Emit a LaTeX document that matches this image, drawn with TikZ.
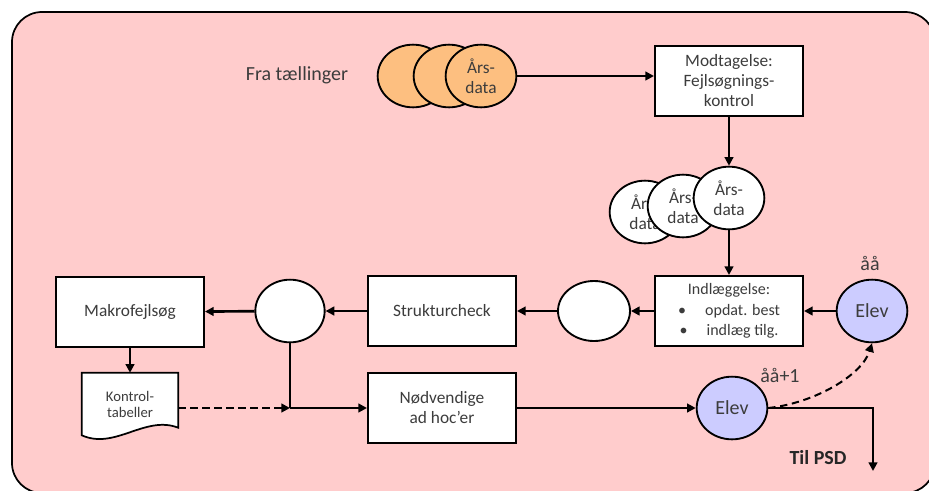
\documentclass[tikz,border=0pt]{standalone}
\usepackage{fontspec}
\setmainfont{Carlito}
\usepackage{tikz}
\usetikzlibrary{arrows.meta, shapes.geometric, positioning}
\usepackage{xcolor}
\definecolor{bgpink}{HTML}{FFCCCC}
\definecolor{dataorange}{HTML}{FDBF80}
\definecolor{elevblue}{HTML}{CCCCFF}
\definecolor{txtgray}{HTML}{3C3C3C}

\begin{document}
\begin{tikzpicture}[x=0.75pt, y=-0.75pt,
	flow/.style={line width=2pt, -{Triangle[length=6.5pt, width=6.5pt]}},
	stiplet/.style={dash pattern=on 5.5pt off 3.5pt},
	boks/.style={draw, line width=1.5pt, fill=white, minimum width=111pt, minimum height=52.5pt, inner sep=2pt, align=center, text=txtgray, font=\fontsize{13}{15}\selectfont},
	data/.style={ellipse, draw, line width=1.4pt, minimum width=53pt, minimum height=47pt, inner sep=0pt, align=center, text=txtgray, font=\fontsize{13}{15}\selectfont},
	elev/.style={data, fill=elevblue, font=\fontsize{15}{17}\selectfont},
	etiket/.style={text=txtgray, font=\fontsize{15}{17}\selectfont}]
	\useasboundingbox (0,0) rectangle (929,490);
	% baggrund
	\draw [fill=bgpink, line width=1.3pt, rounded corners=22.5pt] (12,12) rectangle (935,493);
	% modtagelse
	\node [etiket] (fra) at (297,75) {Fra tællinger};
	\node [data, fill=dataorange] (aars1) at (413,76) {};
	\node [data, fill=dataorange] (aars2) at (449,76) {};
	\node [data, fill=dataorange] (aars3) at (481,76) {Års-\\data};
	\node [boks] (modt) at (729,81) {Modtagelse:\\Fejlsøgnings-\\kontrol};
	\node [data, fill=white] (ny1) at (645,212) {Års-\\data};
	\node [data, fill=white] (ny2) at (683,206) {Års-\\data};
	\node [data, fill=white] (ny3) at (729,198) {Års-\\data};
	% indlaeggelse og check
	\node [boks, font=\fontsize{12}{14.3}\selectfont] (indl) at (729,311) {Indlæggelse:\\[1pt]\textbullet\hspace{1.2em}opdat. best\\[1pt]\textbullet\hspace{1.2em}indlæg tilg.};
	\node [elev] (elev1) at (872,311) {Elev};
	\node [etiket] (aa) at (870,263) {åå};
	\node [data, fill=white, minimum width=54pt, minimum height=45pt] (rund1) at (594,311) {};
	\node [boks] (struk) at (442,311) {Strukturcheck};
	\node [data, fill=white, minimum width=52pt] (rund2) at (290,311) {};
	\node [boks] (makro) at (130,312) {Makrofejlsøg};
	\node [minimum width=72pt, minimum height=46.5pt, inner sep=0pt, align=center, text=txtgray, font=\fontsize{11}{12}\selectfont] (kontrol) at (130,404) {Kontrol-\\tabeller};
	\draw [line width=1.3pt, fill=white] (kontrol.south west) -- (kontrol.north west) -- (kontrol.north east) -- ++(0,55) .. controls +(-33,-13) and +(33,15) .. (kontrol.south west) -- cycle;
	\node at (kontrol) [text=txtgray, align=center, font=\fontsize{11}{12}\selectfont] {Kontrol-\\tabeller};
	\node [boks] (nodv) at (442,408) {Nødvendige\\ad hoc’er};
	\node [elev] (elev2) at (732,408) {Elev};
	\node [etiket] (aa1) at (780,375) {åå+1};
	\node [text=black!85, font=\fontsize{15}{17}\selectfont\bfseries] (tilpsd) at (818,458) {Til PSD};
	\coordinate (knude) at (290,408);
	\coordinate (psd) at (873,471);
	% forbindelser
	\draw [flow] (aars3) -- (aars3 -| modt.west);
	\draw [flow] (modt) -- (ny3);
	\draw [flow] (ny3) -- (indl);
	\draw [flow] (elev1) -- (indl);
	\draw [flow] (indl) -- (rund1);
	\draw [flow] (rund1) -- (struk);
	\draw [flow] (struk) -- (rund2);
	\draw [flow] (rund2) -- (makro);
	\draw [flow] (makro) -- (kontrol);
	\draw [line width=2pt] (rund2) -- (knude);
	\draw [flow, stiplet] (kontrol.east |- knude) -- (knude);
	\draw [flow] (knude) -- (nodv);
	\draw [flow] (nodv) -- (elev2);
	\draw [flow] (elev2.east) -| (psd);
	\draw [flow, stiplet, line width=1.5pt] (elev2.east) .. controls (815,403) and (862,375) .. (elev1.south);
\end{tikzpicture}
\end{document}
